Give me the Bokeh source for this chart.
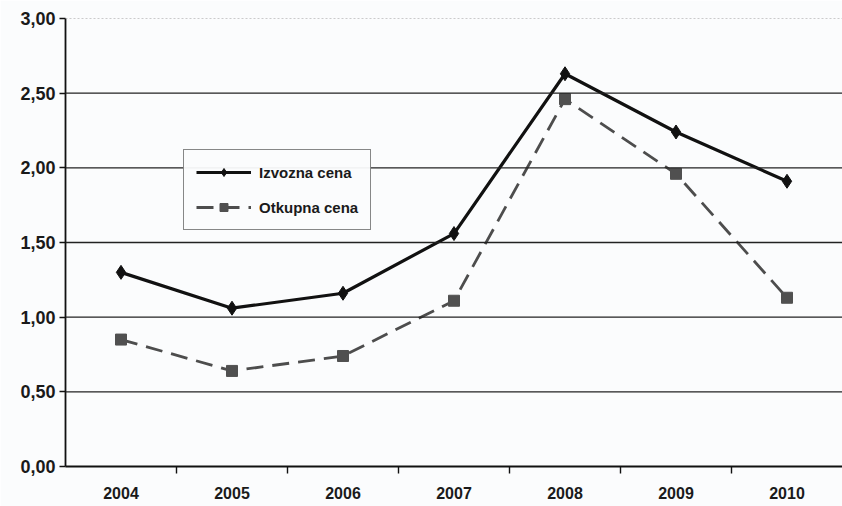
from bokeh.plotting import figure
from bokeh.models import FixedTicker, Span, Legend, LegendItem, ColumnDataSource
from bokeh.embed import file_html
from bokeh.resources import INLINE

years = ["2004", "2005", "2006", "2007", "2008", "2009", "2010"]
izvozna = [1.30, 1.06, 1.16, 1.56, 2.63, 2.24, 1.91]
otkupna = [0.85, 0.64, 0.74, 1.11, 2.46, 1.96, 1.13]
y_ticks = [0.0, 0.5, 1.0, 1.5, 2.0, 2.5, 3.0]
y_labels = ["0,00", "0,50", "1,00", "1,50", "2,00", "2,50", "3,00"]

xs = [i + 0.5 for i in range(len(years))]
src = ColumnDataSource(dict(x=xs, iz=izvozna, ot=otkupna))

p = figure(width=842, height=506, output_backend="svg", toolbar_location=None,
           x_range=(0, len(years)), y_range=(0, 3.0),
           min_border_left=65, min_border_right=0, min_border_top=18, min_border_bottom=40)
p.background_fill_color = "#fbfcfd"
p.border_fill_color = "#fbfcfd"
p.outline_line_color = None
p.xgrid.visible = False
p.ygrid.visible = False

for v in y_ticks[1:-1]:
    p.add_layout(Span(location=v, dimension="width", line_color="#222222", line_width=1.4))
p.add_layout(Span(location=3.0, dimension="width", line_color="#999999", line_width=1, line_dash="2 2"))

# y axis
p.yaxis.ticker = FixedTicker(ticks=y_ticks)
p.yaxis.major_label_overrides = {t: l for t, l in zip(y_ticks, y_labels)}
p.yaxis.axis_line_color = "#111111"
p.yaxis.axis_line_width = 1.8
p.yaxis.major_tick_in = 0
p.yaxis.major_tick_out = 6
p.yaxis.major_tick_line_color = "#111111"
p.yaxis.major_tick_line_width = 1.4
p.yaxis.minor_tick_line_color = None
p.yaxis.major_label_text_font = "Liberation Sans"
p.yaxis.major_label_text_font_style = "bold"
p.yaxis.major_label_text_font_size = "18px"
p.yaxis.major_label_text_color = "#1a1a1a"
p.yaxis.major_label_standoff = 4

# x axis
p.xaxis.ticker = FixedTicker(ticks=xs, minor_ticks=list(range(1, len(years))))
p.xaxis.major_label_overrides = {x: y for x, y in zip(xs, years)}
p.xaxis.axis_line_color = "#111111"
p.xaxis.axis_line_width = 1.8
p.xaxis.major_tick_line_color = None
p.xaxis.minor_tick_line_color = "#111111"
p.xaxis.minor_tick_line_width = 1.4
p.xaxis.minor_tick_in = 0
p.xaxis.minor_tick_out = 7
p.xaxis.major_label_text_font = "Liberation Sans"
p.xaxis.major_label_text_font_style = "bold"
p.xaxis.major_label_text_font_size = "16px"
p.xaxis.major_label_text_color = "#1a1a1a"
p.xaxis.major_label_standoff = 13

l1 = p.line("x", "iz", source=src, line_color="#111111", line_width=3.2)
m1 = p.scatter("x", "iz", source=src, marker="diamond", size=14, fill_color="#111111", line_color="#111111")
l2 = p.line("x", "ot", source=src, line_color="#4d4d4d", line_width=2.8, line_dash="17 9")
m2 = p.scatter("x", "ot", source=src, marker="square", size=11, fill_color="#505050", line_color="#505050")

legend = Legend(items=[LegendItem(label="Izvozna cena", renderers=[l1, m1]),
                       LegendItem(label="Otkupna cena", renderers=[l2, m2])],
                location=(118, 236))
legend.border_line_color = "#111111"
legend.border_line_width = 1.6
legend.background_fill_color = "#fbfcfd"
legend.label_text_font = "Liberation Sans"
legend.label_text_font_style = "bold"
legend.label_text_font_size = "15px"
legend.label_text_color = "#1a1a1a"
legend.glyph_width = 55
legend.label_standoff = 8
legend.spacing = 15
legend.padding = 12
legend.margin = 0
p.add_layout(legend)

open("out.html", "w").write(file_html(p, INLINE))
